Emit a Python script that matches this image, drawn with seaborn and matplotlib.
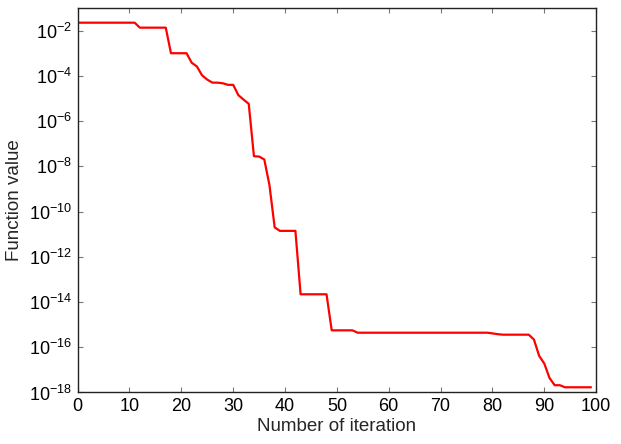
# Convergence history on a log scale
import matplotlib
matplotlib.use("Agg")
import matplotlib.pyplot as plt
import numpy as np
import pandas as pd
import seaborn as sns

# values (iterations 0..99)
iterations = list(range(100))
function_value = (
    [2.24e-2] * 12
    + [1.35e-2] * 6
    + [1.0e-3] * 4
    + [3.8e-4, 2.6e-4, 1.05e-4, 6.8e-5, 5.0e-5, 5.0e-5, 4.7e-5, 4.0e-5, 4.0e-5,
       1.4e-5, 8.9e-6, 5.8e-6, 2.8e-8, 2.7e-8, 2.0e-8, 1.45e-9, 2.0e-11]
    + [1.4e-11] * 4
    + [2.2e-14] * 6
    + [5.6e-16] * 5
    + [4.4e-16] * 26
    + [4.1e-16, 3.8e-16]
    + [3.6e-16] * 6
    + [2.2e-16, 4.2e-17, 1.9e-17, 4.4e-18, 2.1e-18, 2.1e-18]
    + [1.7e-18] * 6
)
x_ticks = list(range(0, 101, 10))
y_ticks = [1e-18, 1e-16, 1e-14, 1e-12, 1e-10, 1e-8, 1e-6, 1e-4, 1e-2]

df = pd.DataFrame({"iteration": iterations, "value": function_value})

sns.set_style("ticks")
plt.rcParams["font.family"] = ["Liberation Sans", "DejaVu Sans"]
plt.rcParams["mathtext.default"] = "regular"

fig = plt.figure(figsize=(6.21, 4.44), dpi=100)
ax = fig.add_axes([0.125, 0.116, 0.835, 0.866])

sns.lineplot(data=df, x="iteration", y="value", color="red", linewidth=1.6, ax=ax)

ax.set_yscale("log")
ax.set_xlim(0, 100)
ax.set_ylim(1e-18, 1e-1)
ax.set_xticks(x_ticks)
ax.set_yticks(y_ticks)
ax.set_yticklabels([f"$10^{{{int(np.log10(t))}}}$" for t in y_ticks])
ax.minorticks_off()
ax.tick_params(direction="in", top=True, right=True, length=3.5, width=0.8,
               labelsize=13, color="#777777", labelcolor="black", pad=4)

for side in ax.spines.values():
    side.set_color("#222222")
    side.set_linewidth(1.0)

ax.set_xlabel("Number of iteration", fontsize=13.5, labelpad=2)
ax.set_ylabel("Function value", fontsize=13.5, labelpad=4)

fig.savefig("out.png", dpi=100)
